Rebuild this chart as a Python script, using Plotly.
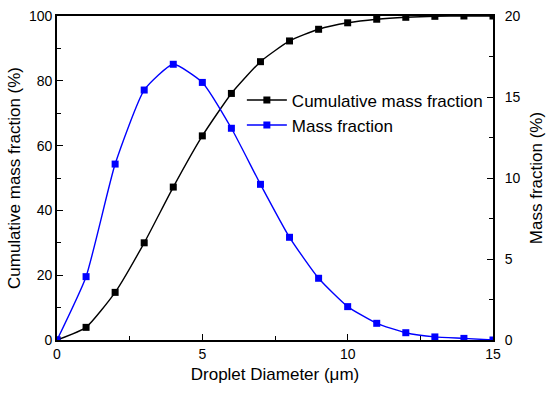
import plotly.graph_objects as go

diameter = [0, 1, 2, 3, 4, 5, 6, 7, 8, 9, 10, 11, 12, 13, 14, 15]
cumulative = [0, 3.9, 14.7, 30.0, 47.2, 63.0, 76.1, 85.9, 92.3, 95.9, 97.9, 99.0, 99.6, 99.9, 100, 100]
mass = [0, 3.91, 10.86, 15.43, 17.02, 15.9, 13.07, 9.61, 6.34, 3.81, 2.06, 1.03, 0.45, 0.19, 0.1, 0.0]

FONT = "Liberation Sans, Arial, sans-serif"

fig = go.Figure()
fig.add_trace(go.Scatter(
    x=diameter, y=cumulative, name="Cumulative mass fraction",
    mode="lines+markers", line=dict(color="#000000", width=1.4, shape="spline", smoothing=0.5),
    marker=dict(symbol="square", size=7, color="#000000"), yaxis="y"))
fig.add_trace(go.Scatter(
    x=diameter, y=mass, name="Mass fraction",
    mode="lines+markers", line=dict(color="#0000ff", width=1.4, shape="spline", smoothing=0.5),
    marker=dict(symbol="square", size=7, color="#0000ff"), yaxis="y2"))

axis_common = dict(
    showgrid=False, zeroline=False, showline=True, linecolor="black", linewidth=1.8,
    ticks="inside", ticklen=6, tickwidth=1.2, tickcolor="black", automargin=False,
    tickfont=dict(family=FONT, size=14, color="black"),
)

fig.update_layout(
    width=550, height=395,
    margin=dict(l=57, r=57, t=16, b=55),
    paper_bgcolor="white", plot_bgcolor="white",
    font=dict(family=FONT, color="black"),
    xaxis=dict(**axis_common, range=[0, 15], dtick=5, mirror=True,
               minor=dict(ticks="inside", dtick=2.5, ticklen=4, tickcolor="black"),
               title=dict(text="Droplet Diameter (μm)", font=dict(family=FONT, size=17), standoff=7)),
    yaxis=dict(**axis_common, range=[0, 100], dtick=20,
               minor=dict(ticks="inside", dtick=10, ticklen=4, tickcolor="black"),
               title=dict(text="Cumulative mass fraction (%)", font=dict(family=FONT, size=17), standoff=4)),
    yaxis2=dict(**axis_common, range=[0, 20], dtick=5, overlaying="y", side="right",
                ticklabelstandoff=7,
                minor=dict(ticks="inside", dtick=2.5, ticklen=4, tickcolor="black"),
                title=dict(text="Mass fraction (%)", font=dict(family=FONT, size=17), standoff=11)),
    legend=dict(x=0.424, y=0.795, xanchor="left", yanchor="top", bgcolor="rgba(0,0,0,0)",
                font=dict(family=FONT, size=17), tracegroupgap=0, itemwidth=40),
    showlegend=True,
)

fig.write_html("out.html", config={"displayModeBar": False},
               post_script="document.body.style.margin='0px';")
